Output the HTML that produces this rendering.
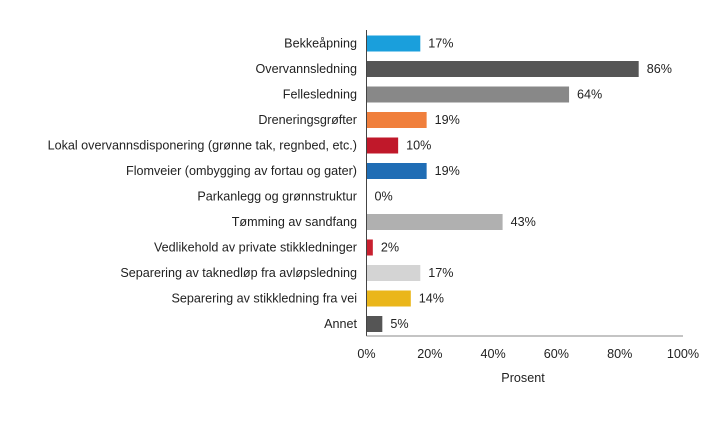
<!DOCTYPE html>
<html><head><meta charset="utf-8"><style>
body{margin:0;background:#fff;}
svg text{font-family:"Liberation Sans",sans-serif;font-size:12.6px;fill:#222;}
</style></head><body>
<svg id="chart" width="719" height="417"></svg>
<script>
const categories=["Bekkeåpning","Overvannsledning","Fellesledning","Dreneringsgrøfter","Lokal overvannsdisponering (grønne tak, regnbed, etc.)","Flomveier (ombygging av fortau og gater)","Parkanlegg og grønnstruktur","Tømming av sandfang","Vedlikehold av private stikkledninger","Separering av taknedløp fra avløpsledning","Separering av stikkledning fra vei","Annet"];
const values=[17,86,64,19,10,19,0,43,2,17,14,5];
const colors=["#1a9fdc","#555555","#888888","#f07f3c","#c0182a","#1f6db5","#999999","#b0b0b0","#c8202f","#d4d4d4","#eab61a","#555555"];
const ticks=[0,20,40,60,80,100];
const svg=document.getElementById('chart');
const NS='http://www.w3.org/2000/svg';
const x0=366.5,x1=683,yTop=43.5,step=25.5,bh=16;
const xs=v=>x0+(x1-x0)*v/100;
const ys=i=>yTop+i*step;
function mk(t,a,txt){const e=document.createElementNS(NS,t);for(const k in a)e.setAttribute(k,a[k]);if(txt!=null)e.textContent=txt;svg.appendChild(e);return e;}
categories.forEach((c,i)=>{
  const l=mk('text',{x:357,y:ys(i)+4,'text-anchor':'end'},c);
  
  
  const w=xs(values[i])-x0;
  const r=mk('rect',{x:x0,y:ys(i)-bh/2,width:Math.max(w,0),height:bh,fill:colors[i]});
  
  
  const v=mk('text',{x:xs(values[i])+8,y:ys(i)+4},values[i]+'%');
  
  
});
const ya=mk('line',{x1:x0,y1:30,x2:x0,y2:336,stroke:'#444','stroke-width':1});


const xa=mk('line',{x1:x0,y1:336,x2:x1,y2:336,stroke:'#888','stroke-width':1});


ticks.forEach(t=>{
  const e=mk('text',{x:xs(t),y:358,'text-anchor':'middle'},t+'%');
  
  
});
const tt=mk('text',{x:523,y:382,'text-anchor':'middle'},'Prosent');


</script>
</body></html>
